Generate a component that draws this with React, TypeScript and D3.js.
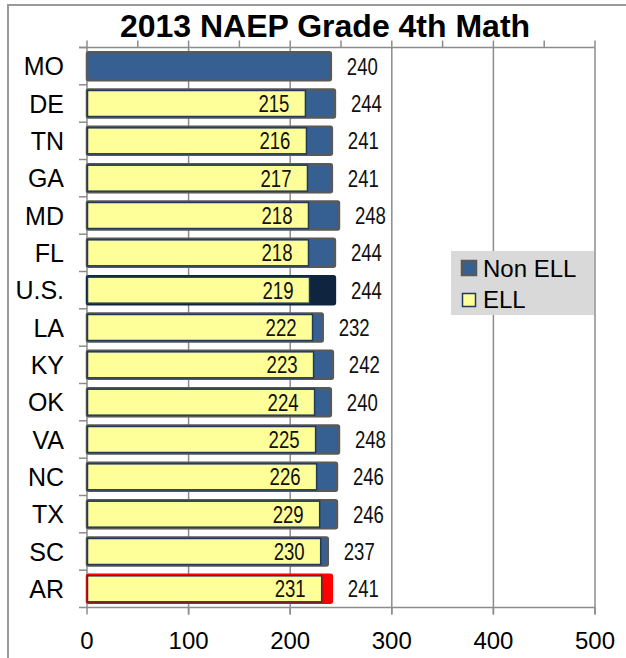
import React from "react";
import * as d3 from "d3";

const states = ["MO", "DE", "TN", "GA", "MD", "FL", "U.S.", "LA", "KY", "OK", "VA", "NC", "TX", "SC", "AR"];
const ellScores = [null, 215, 216, 217, 218, 218, 219, 222, 223, 224, 225, 226, 229, 230, 231];
const nonEllScores = [240, 244, 241, 241, 248, 244, 244, 232, 242, 240, 248, 246, 246, 237, 241];
const xTicks = [0, 100, 200, 300, 400, 500];
const minorTicks = d3.range(0, 501, 50);

const width = 626;
const height = 658;
const margin = { top: 47.5, right: 31, bottom: 50.5, left: 87 };

const BLUE = "#376092";
const YELLOW = "#FFFF99";
const GRID = "#8c8c8c";
const sans = "'Liberation Sans', Arial, sans-serif";

// value labels are narrow in the original, squeeze regular glyphs
const NarrowNum = ({ x, y, anchor, v }) => (
  <text
    x={x}
    y={y}
    textAnchor={anchor}
    fontFamily={sans}
    fontSize={24}
    fill="#111"
    textLength={31}
    lengthAdjust="spacingAndGlyphs"
  >
    {v}
  </text>
);

const App = () => {
  const x = d3.scaleLinear().domain([0, 500]).range([margin.left, width - margin.right]);
  const y = d3
    .scaleBand()
    .domain(states)
    .range([margin.top, height - margin.bottom])
    .paddingInner(0.25)
    .paddingOuter(0.125);
  const step = y.step();
  const bottom = height - margin.bottom;

  // special colours for the U.S. average and Arkansas
  const nonEllFill = (s) => (s === "U.S." ? "#0F243E" : s === "AR" ? "#FF0000" : BLUE);
  const nonEllStroke = (s) => (s === "U.S." ? "#0F243E" : s === "AR" ? "#FF0000" : "#595959");

  return (
    <svg
      width={width}
      height={height}
      style={{ position: "absolute", left: 0, top: 0, background: "#fff" }}
    >
      {/* outer chart border, only top and left visible */}
      <path d={`M8,${height} V5 H${width}`} fill="none" stroke="#999" strokeWidth={2} />

      <text x={325} y={37} textAnchor="middle" fontFamily={sans} fontWeight="bold" fontSize={32}>
        2013 NAEP Grade 4th Math
      </text>

      {/* gridlines */}
      {xTicks.slice(1).map((t) => (
        <line key={t} x1={x(t)} x2={x(t)} y1={margin.top} y2={bottom + 7} stroke={GRID} strokeWidth={1.5} />
      ))}
      {/* top axis with minor ticks */}
      <line x1={x(0) - 8} x2={x(500)} y1={margin.top} y2={margin.top} stroke={GRID} strokeWidth={1.5} />
      {minorTicks.map((t) => (
        <line key={t} x1={x(t)} x2={x(t)} y1={margin.top - 7} y2={margin.top} stroke={GRID} strokeWidth={1.5} />
      ))}
      {/* bottom axis */}
      <line x1={x(0) - 8} x2={x(500)} y1={bottom} y2={bottom} stroke={GRID} strokeWidth={1.5} />
      {xTicks.map((t) => (
        <g key={t}>
          <line x1={x(t)} x2={x(t)} y1={bottom} y2={bottom + 7} stroke={GRID} strokeWidth={1.5} />
          <text x={x(t)} y={bottom + 41} textAnchor="middle" fontFamily={sans} fontSize={24}>
            {t}
          </text>
        </g>
      ))}
      {/* left axis */}
      <line x1={x(0)} x2={x(0)} y1={margin.top} y2={bottom} stroke={GRID} strokeWidth={1.5} />
      {states.map((s, i) => (
        <line
          key={s}
          x1={x(0) - 8}
          x2={x(0)}
          y1={margin.top + i * step}
          y2={margin.top + i * step}
          stroke={GRID}
          strokeWidth={1.5}
        />
      ))}

      {states.map((s, i) => {
        const yy = y(s);
        const bh = y.bandwidth();
        const cy = yy + bh / 2;
        const ne = nonEllScores[i];
        const el = ellScores[i];
        return (
          <g key={s}>
            <text x={64} y={cy + 9} textAnchor="end" fontFamily={sans} fontSize={25}>
              {s}
            </text>
            <rect
              x={x(0)}
              y={yy}
              width={x(ne) - x(0)}
              height={bh}
              fill={nonEllFill(s)}
              stroke={nonEllStroke(s)}
              strokeWidth={2.5}
              rx={1.5}
            />
            {el != null && (
              <rect
                x={x(0) + 0.5}
                y={yy + 1}
                width={x(el) - x(0) - 0.5}
                height={bh - 2}
                fill={YELLOW}
                stroke="#1F3A5A"
                strokeWidth={1.5}
              />
            )}
            {el != null && <NarrowNum x={x(el) - 16} y={cy + 8.5} anchor="end" v={el} />}
            <NarrowNum x={x(ne) + 16} y={cy + 8.5} anchor="start" v={ne} />
          </g>
        );
      })}

      {/* legend */}
      <g>
        <rect x={451} y={251} width={143} height={64} fill="#D9D9D9" />
        <rect x={462} y={261} width={14} height={14} fill={BLUE} stroke="#595959" strokeWidth={2.5} />
        <text x={483} y={276.5} fontFamily={sans} fontSize={24}>
          Non ELL
        </text>
        <rect x={462.5} y={293.5} width={13} height={13} fill={YELLOW} stroke="#1F3A5A" strokeWidth={1.5} />
        <text x={483} y={307.5} fontFamily={sans} fontSize={24}>
          ELL
        </text>
      </g>
    </svg>
  );
};

export default App;
